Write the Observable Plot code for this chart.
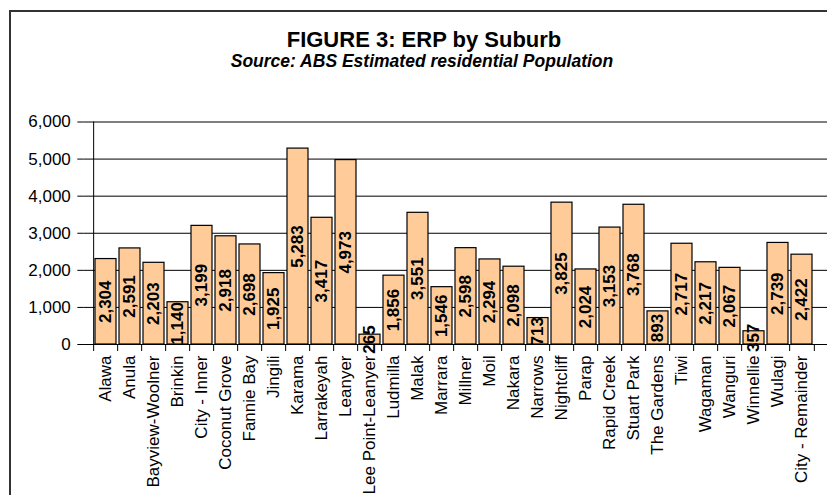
<!DOCTYPE html>
<html><head><meta charset="utf-8">
<script src="https://cdn.jsdelivr.net/npm/d3@7"></script>
<script src="https://cdn.jsdelivr.net/npm/@observablehq/plot@0.6"></script>
<style>
html,body{margin:0;padding:0;background:#fff;overflow:hidden}
#wrap{position:relative;width:827px;height:495px;overflow:hidden;font-family:"Liberation Sans",Arial,sans-serif}
#frame{position:absolute;left:9px;top:10px;width:900px;height:600px;border:2px solid #333;box-sizing:border-box}
.t{position:absolute;left:0;text-align:center;white-space:nowrap;color:#000}
#title{top:29px;width:848px;font-size:22px;line-height:22px;font-weight:bold}
#sub{top:53px;width:844px;font-size:17.5px;line-height:17.5px;font-weight:bold;font-style:italic}
#chart{position:absolute;left:0;top:0}
</style>
</head><body>
<div id="wrap">
<div id="frame"></div>
<div id="chart"></div>
<div class="t" id="title">FIGURE 3: ERP by Suburb</div>
<div class="t" id="sub">Source: ABS Estimated residential Population</div>
</div>
<script>
const suburbs = ["Alawa","Anula","Bayview-Woolner","Brinkin","City - Inner","Coconut Grove","Fannie Bay","Jingili","Karama","Larrakeyah","Leanyer","Lee Point-Leanyer","Ludmilla","Malak","Marrara","Millner","Moil","Nakara","Narrows","Nightcliff","Parap","Rapid Creek","Stuart Park","The Gardens","Tiwi","Wagaman","Wanguri","Winnellie","Wulagi","City - Remainder"];
const population = [2304,2591,2203,1140,3199,2918,2698,1925,5283,3417,4973,265,1856,3551,1546,2598,2294,2098,713,3825,2024,3153,3768,893,2717,2217,2067,357,2739,2422];
const yTicks = [0,1000,2000,3000,4000,5000,6000];

const data = suburbs.map((s, i) => ({suburb: s, value: population[i]}));
const W = 827, H = 495, ML = 83.3, MR = 3, MT = 121.5, MB = 151;
const step = (W - ML - MR) / suburbs.length;
const fmt = d3.format(",");
const font = '"Liberation Sans", Arial, sans-serif';

const plot = Plot.plot({
  width: W, height: H,
  marginLeft: ML, marginRight: MR, marginTop: MT, marginBottom: MB,
  style: {background: "transparent", fontFamily: font, color: "#000"},
  x: {domain: suburbs, paddingInner: 0.12, paddingOuter: 0.06, label: null},
  y: {domain: [0, 6000], label: null},
  marks: [
    Plot.ruleY(yTicks, {stroke: "#000", strokeWidth: 1, insetRight: -3}),
    Plot.barY(data, {x: "suburb", y: "value", fill: "#FFCC99", stroke: "#000", strokeWidth: 1.2}),
    Plot.text(data, {x: "suburb", y: d => d.value / 2, text: d => fmt(d.value), rotate: -90, fontSize: 17, fontWeight: "bold", fill: "#000"}),
    Plot.ruleX([suburbs[0]], {x: d => d, dx: -step / 2, y1: 0, y2: 6000, stroke: "#000"}),
    Plot.ruleX(suburbs, {x: d => d, dx: -step / 2, y1: 0, y2: 0, insetBottom: -7, stroke: "#000"}),
    Plot.ruleX([suburbs[suburbs.length - 1]], {x: d => d, dx: step / 2, y1: 0, y2: 0, insetBottom: -7, stroke: "#000"}),
    Plot.ruleY([0], {stroke: "#000", insetRight: -3}),
    Plot.axisY({ticks: yTicks, tickFormat: fmt, tickSize: 6, tickPadding: 7, fontSize: 17, anchor: "left", label: null}),
    Plot.axisX({tickRotate: -90, tickSize: 0, tickPadding: 11, fontSize: 17, anchor: "bottom", label: null})
  ]
});
document.getElementById("chart").appendChild(plot);
</script>
</body></html>
